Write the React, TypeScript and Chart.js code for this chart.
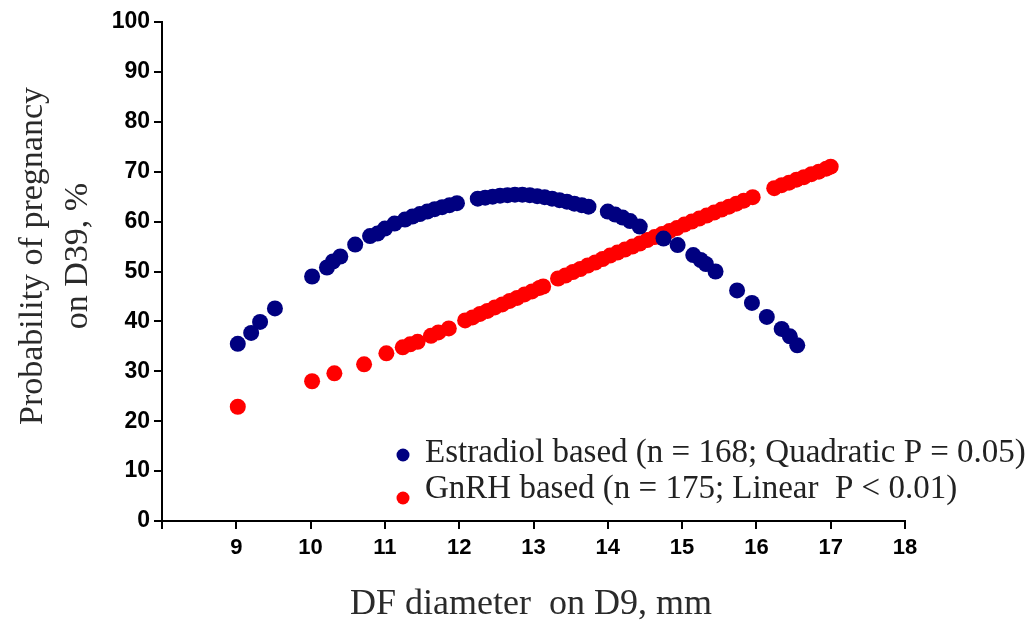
import React, { useEffect, useRef } from 'react';
import { Chart, registerables } from 'chart.js';

Chart.register(...registerables);

// Estradiol based (blue)
const estradiolX = [9.02, 9.2, 9.32, 9.52, 10.02, 10.22, 10.3, 10.4, 10.6, 10.8, 10.9, 11.0, 11.13, 11.27, 11.37, 11.47, 11.57, 11.67, 11.77, 11.87, 11.97, 12.25, 12.35, 12.45, 12.55, 12.65, 12.75, 12.85, 12.95, 13.05, 13.15, 13.25, 13.35, 13.45, 13.55, 13.65, 13.74, 14.0, 14.1, 14.2, 14.3, 14.43, 14.75, 14.94, 15.15, 15.25, 15.32, 15.45, 15.74, 15.94, 16.14, 16.34, 16.45, 16.55];
const estradiolY = [35.5, 37.7, 39.9, 42.6, 49.0, 50.8, 52.0, 53.0, 55.4, 57.1, 57.6, 58.6, 59.6, 60.4, 61.0, 61.5, 62.0, 62.5, 62.9, 63.3, 63.7, 64.6, 64.8, 65.0, 65.2, 65.3, 65.4, 65.4, 65.3, 65.1, 64.9, 64.6, 64.3, 64.0, 63.6, 63.3, 63.0, 62.0, 61.4, 60.8, 60.1, 59.0, 56.6, 55.3, 53.3, 52.3, 51.5, 50.0, 46.2, 43.7, 40.9, 38.5, 37.0, 35.2];

// GnRH based (red)
const gnrhX = [9.02, 10.02, 10.32, 10.72, 11.02, 11.24, 11.34, 11.44, 11.62, 11.72, 11.86, 12.08, 12.18, 12.28, 12.38, 12.48, 12.58, 12.68, 12.78, 12.88, 12.98, 13.08, 13.13, 13.33, 13.43, 13.53, 13.63, 13.73, 13.83, 13.93, 14.03, 14.13, 14.23, 14.33, 14.43, 14.53, 14.63, 14.73, 14.83, 14.93, 15.03, 15.13, 15.23, 15.33, 15.43, 15.53, 15.63, 15.73, 15.83, 15.95, 16.24, 16.34, 16.44, 16.54, 16.64, 16.74, 16.84, 16.94, 17.0];
const gnrhY = [22.9, 28.0, 29.6, 31.4, 33.6, 34.8, 35.4, 35.9, 37.1, 37.8, 38.6, 40.2, 40.8, 41.5, 42.1, 42.8, 43.4, 44.1, 44.7, 45.4, 46.0, 46.7, 47.0, 48.6, 49.2, 49.9, 50.5, 51.2, 51.8, 52.5, 53.2, 53.8, 54.4, 55.0, 55.6, 56.3, 56.9, 57.5, 58.1, 58.7, 59.4, 60.0, 60.6, 61.2, 61.8, 62.4, 63.0, 63.6, 64.2, 64.9, 66.7, 67.3, 67.8, 68.4, 68.9, 69.5, 70.0, 70.6, 71.0];

const xTickValues = [9, 10, 11, 12, 13, 14, 15, 16, 17, 18];
const yTickValues = [0, 10, 20, 30, 40, 50, 60, 70, 80, 90, 100];

const seriesLabels = [
  'Estradiol based (n = 168; Quadratic P = 0.05)',
  'GnRH based (n = 175; Linear  P < 0.01)',
];
const seriesColors = ['#000080', '#FF0000'];
const yTitleLines = ['Probability of pregnancy', 'on D39, %'];
const xTitle = 'DF diameter  on D9, mm';

const SERIF = '"Liberation Serif", "Times New Roman", serif';
const SANS = '"Liberation Sans", Arial, sans-serif';

const annotationPlugin = {
  id: 'customText',
  afterDraw(chart: any) {
    const ctx = chart.ctx;
    const area = chart.chartArea;
    ctx.save();
    // legend
    ctx.font = `33px ${SERIF}`;
    ctx.textBaseline = 'middle';
    ctx.textAlign = 'left';
    const lx = area.left + 241;
    const ly = [area.top + 433, area.top + 476];
    const ty = [area.top + 431, area.top + 467];
    for (let i = 0; i < 2; i++) {
      ctx.fillStyle = seriesColors[i];
      ctx.beginPath();
      ctx.arc(lx, ly[i], 6.5, 0, Math.PI * 2);
      ctx.fill();
      ctx.fillStyle = '#222';
      ctx.fillText(seriesLabels[i], lx + 22, ty[i]);
    }
    // y title
    ctx.font = `34px ${SERIF}`;
    ctx.fillStyle = '#2a2a2a';
    ctx.textAlign = 'center';
    const cy = area.top + 234;
    ctx.save();
    ctx.translate(33, cy);
    ctx.rotate(-Math.PI / 2);
    ctx.fillText(yTitleLines[0], 0, 0);
    ctx.restore();
    ctx.save();
    ctx.translate(78, cy);
    ctx.rotate(-Math.PI / 2);
    ctx.fillText(yTitleLines[1], 0, 0);
    ctx.restore();
    // x title
    ctx.font = `36px ${SERIF}`;
    ctx.fillText(xTitle, 531, area.bottom + 84);
    ctx.restore();
  },
};

export default function App() {
  const ref = useRef<HTMLCanvasElement | null>(null);
  useEffect(() => {
    if (!ref.current) return;
    const chart = new Chart(ref.current, {
      type: 'scatter',
      data: {
        datasets: [
          {
            label: seriesLabels[0],
            data: estradiolX.map((x, i) => ({ x, y: estradiolY[i] })),
            backgroundColor: seriesColors[0],
            borderColor: seriesColors[0],
            pointRadius: 8,
            borderWidth: 0,
          },
          {
            label: seriesLabels[1],
            data: gnrhX.map((x, i) => ({ x, y: gnrhY[i] })),
            backgroundColor: seriesColors[1],
            borderColor: seriesColors[1],
            pointRadius: 8,
            borderWidth: 0,
          },
        ],
      },
      options: {
        animation: false,
        responsive: true,
        maintainAspectRatio: false,
        layout: { padding: { left: 0, right: 130, top: 22, bottom: 0 } },
        plugins: { legend: { display: false }, tooltip: { enabled: false } },
        scales: {
          x: {
            type: 'linear',
            min: 8,
            max: 18,
            afterFit: (s: any) => { s.height = 101; },
            afterBuildTicks: (s: any) => { s.ticks = [8, ...xTickValues].map((v) => ({ value: v })); },
            ticks: {
              callback: (v: any) => (v === 8 ? '' : String(v)),
              font: { family: SANS, size: 22, weight: 'bold' },
              color: '#000',
              padding: 6,
              maxRotation: 0,
              autoSkip: false,
            },
            grid: { drawOnChartArea: false, drawTicks: true, tickLength: 8, color: '#000', lineWidth: 2 },
            border: { display: true, color: '#000', width: 2 },
          },
          y: {
            type: 'linear',
            min: 0,
            max: 100,
            afterFit: (s: any) => { s.width = 162; },
            afterBuildTicks: (s: any) => { s.ticks = yTickValues.map((v) => ({ value: v })); },
            ticks: {
              font: { family: SANS, size: 23, weight: 'bold' },
              color: '#000',
              padding: 4,
              autoSkip: false,
            },
            grid: { drawOnChartArea: false, drawTicks: true, tickLength: 8, color: '#000', lineWidth: 2 },
            border: { display: true, color: '#000', width: 2 },
          },
        },
      },
      plugins: [annotationPlugin],
    });
    return () => chart.destroy();
  }, []);
  return (
    <div style={{ position: 'fixed', left: 0, top: 0, width: 1035, height: 622, background: '#fff' }}>
      <canvas ref={ref} />
    </div>
  );
}
